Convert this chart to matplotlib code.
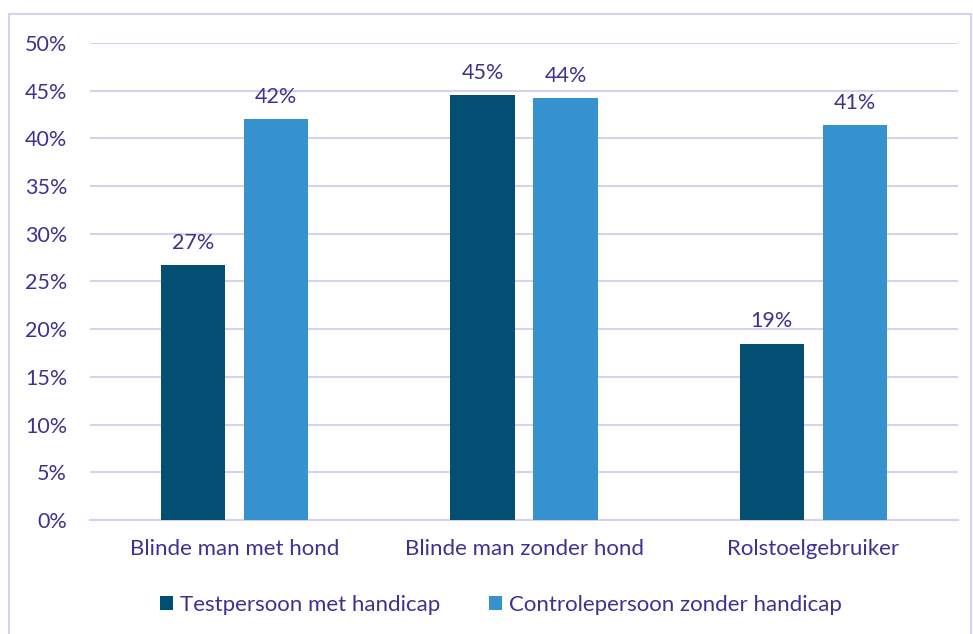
import matplotlib.pyplot as plt
import matplotlib.patches as mpatches
import numpy as np

plt.rcParams['font.family'] = ['Lato', 'DejaVu Sans']

categories = ['Blinde man met hond', 'Blinde man zonder hond', 'Rolstoelgebruiker']
series_names = ['Testpersoon met handicap', 'Controlepersoon zonder handicap']
test_values = [26.7, 44.5, 18.5]
control_values = [42.0, 44.2, 41.4]
value_labels_test = ['27%', '45%', '19%']
value_labels_control = ['42%', '44%', '41%']

text_color = '#3a3393'
grid_color = '#d6d1ef'
dark_blue = '#034e73'
light_blue = '#3592ce'

fig = plt.figure(figsize=(9.73, 6.34), dpi=100)
ax = fig.add_axes([0.0925, 0.1798, 0.8921, 0.7524])

# outer frame
fig.patches.append(mpatches.Rectangle((9 / 973, -0.01), 962 / 973, 1 - 14 / 634 + 0.01,
                                      transform=fig.transFigure, fill=False,
                                      edgecolor=grid_color, linewidth=1.5))

x = np.arange(len(categories))
width = 0.222
offset = 0.1435
b1 = ax.bar(x - offset, test_values, width, color=dark_blue, label=series_names[0], zorder=3)
b2 = ax.bar(x + offset, control_values, width, color=light_blue, label=series_names[1], zorder=3)

for bars, labels in [(b1, value_labels_test), (b2, value_labels_control)]:
    for rect, lab in zip(bars, labels):
        ax.annotate(lab, (rect.get_x() + rect.get_width() / 2, rect.get_height()),
                    xytext=(0, 9), textcoords='offset points', ha='center', va='bottom',
                    fontsize=15.5, color=text_color)

ax.set_xlim(-0.5, 2.5)
ax.set_ylim(0, 50)
ax.set_yticks(range(0, 51, 5))
ax.set_yticklabels([f'{v}%' for v in range(0, 51, 5)])
ax.set_xticks(x)
ax.set_xticklabels(categories)
ax.tick_params(axis='both', length=0, colors=text_color)
ax.tick_params(axis='y', pad=16.5, labelsize=15.5)
ax.tick_params(axis='x', pad=14, labelsize=16)
ax.yaxis.grid(True, color=grid_color, linewidth=1.5, zorder=0)
ax.set_axisbelow(True)
for s in ['top', 'right', 'left']:
    ax.spines[s].set_visible(False)
ax.spines['bottom'].set_color(grid_color)
ax.spines['bottom'].set_linewidth(1.5)

leg = fig.legend(loc='center', bbox_to_anchor=(501 / 973, 1 - 605 / 634), ncol=2,
                 frameon=False, fontsize=16, handlelength=0.6, handleheight=0.6,
                 handletextpad=0.3, columnspacing=2.2)
for t in leg.get_texts():
    t.set_color(text_color)

fig.savefig('out.png', dpi=100)
